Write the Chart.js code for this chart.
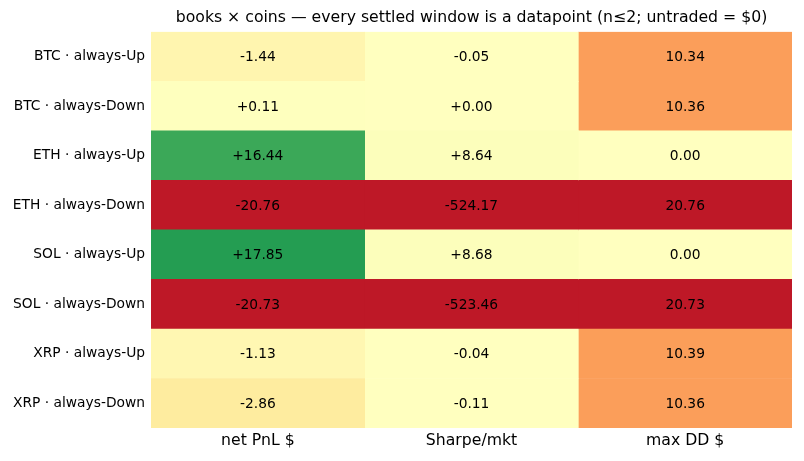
<!DOCTYPE html>
<html>
<head>
<meta charset="utf-8">
<script src="https://cdn.jsdelivr.net/npm/chart.js@4/dist/chart.umd.min.js"></script>
<style>
  html, body { margin: 0; padding: 0; background: #fff; }
  #wrap { width: 804px; height: 461px; }
</style>
</head>
<body>
<div id="wrap"><canvas id="grafico"></canvas></div>
<script>
// Dados do heatmap
const linhas = [
  'BTC · always-Up',
  'BTC · always-Down',
  'ETH · always-Up',
  'ETH · always-Down',
  'SOL · always-Up',
  'SOL · always-Down',
  'XRP · always-Up',
  'XRP · always-Down'
];
const colunas = ['net PnL $', 'Sharpe/mkt', 'max DD $'];

const netPnl = [-1.44, 0.11, 16.44, -20.76, 17.85, -20.73, -1.13, -2.86];
const sharpe = [-0.05, 0.00, 8.64, -524.17, 8.68, -523.46, -0.04, -0.11];
const maxDD = [10.34, 10.36, 0.00, 20.76, 0.00, 20.73, 10.39, 10.36];

const titulo = 'books × coins — every settled window is a datapoint (n≤2; untraded = $0)';

// RdYlGn
const paleta = ['#a50026','#d73027','#f46d43','#fdae61','#fee08b','#ffffbf',
                '#d9ef8b','#a6d96a','#66bd63','#1a9850','#006837'];

function hexParaRgb(h) {
  return [parseInt(h.slice(1,3),16), parseInt(h.slice(3,5),16), parseInt(h.slice(5,7),16)];
}

function corMapa(t) {
  t = Math.max(0, Math.min(1, t));
  const pos = t * (paleta.length - 1);
  const i = Math.min(Math.floor(pos), paleta.length - 2);
  const f = pos - i;
  const a = hexParaRgb(paleta[i]);
  const b = hexParaRgb(paleta[i + 1]);
  const c = a.map((v, k) => Math.round(v + (b[k] - v) * f));
  return `rgb(${c[0]},${c[1]},${c[2]})`;
}

// maior e melhor para PnL e Sharpe, menor e melhor para drawdown
function coresColuna(valores, inverter) {
  const maxAbs = Math.max(...valores.map(v => Math.abs(v)));
  return valores.map(v => {
    const n = v / maxAbs;
    return corMapa(inverter ? 0.5 - 0.45 * n : 0.5 + 0.45 * n);
  });
}

function comSinal(v) {
  return (v >= 0 ? '+' : '') + v.toFixed(2);
}

const series = [
  { valores: netPnl, cores: coresColuna(netPnl, false), texto: netPnl.map(comSinal) },
  { valores: sharpe, cores: coresColuna(sharpe, false), texto: sharpe.map(comSinal) },
  { valores: maxDD, cores: coresColuna(maxDD, true), texto: maxDD.map(v => v.toFixed(2)) }
];

// escreve o valor no meio de cada celula
const textoCelulas = {
  id: 'textoCelulas',
  afterDatasetsDraw(chart) {
    const ctx = chart.ctx;
    ctx.save();
    ctx.font = '13.8px "DejaVu Sans"';
    ctx.fillStyle = '#000';
    ctx.textAlign = 'center';
    ctx.textBaseline = 'middle';
    chart.data.datasets.forEach((ds, d) => {
      chart.getDatasetMeta(d).data.forEach((el, i) => {
        ctx.fillText(series[d].texto[i], (el.x + el.base) / 2, el.y + 1);
      });
    });
    ctx.restore();
  }
};

const ctx = document.getElementById('grafico');

new Chart(ctx, {
  type: 'bar',
  data: {
    labels: linhas,
    datasets: series.map((s, d) => ({
      label: colunas[d],
      data: s.valores.map(() => 1),
      backgroundColor: s.cores,
      borderWidth: 0,
      barPercentage: 1,
      categoryPercentage: 1
    }))
  },
  options: {
    indexAxis: 'y',
    responsive: true,
    maintainAspectRatio: false,
    animation: false,
    layout: { padding: { left: 0, right: 12, top: 0, bottom: 0 } },
    plugins: {
      legend: { display: false },
      tooltip: { enabled: false },
      title: {
        display: true,
        text: titulo,
        fullSize: false,
        color: '#000',
        font: { family: 'DejaVu Sans', size: 15.7, weight: 'normal' },
        padding: { top: 9, bottom: 4 }
      }
    },
    scales: {
      x: {
        type: 'linear',
        stacked: true,
        min: 0,
        max: 3,
        grid: { display: false, drawTicks: false },
        border: { display: false },
        afterBuildTicks: scale => {
          scale.ticks = colunas.map((c, i) => ({ value: i + 0.5 }));
        },
        afterFit: scale => { scale.height = 33; },
        ticks: {
          color: '#000',
          padding: 4,
          maxRotation: 0,
          font: { family: 'DejaVu Sans', size: 15.7 },
          callback: (v, i) => colunas[i]
        }
      },
      y: {
        stacked: true,
        grid: { display: false, drawTicks: false },
        border: { display: false },
        afterFit: scale => { scale.width = 151; },
        ticks: {
          color: '#000',
          padding: 6,
          font: { family: 'DejaVu Sans', size: 13.8 }
        }
      }
    }
  },
  plugins: [textoCelulas]
});
</script>
</body>
</html>
